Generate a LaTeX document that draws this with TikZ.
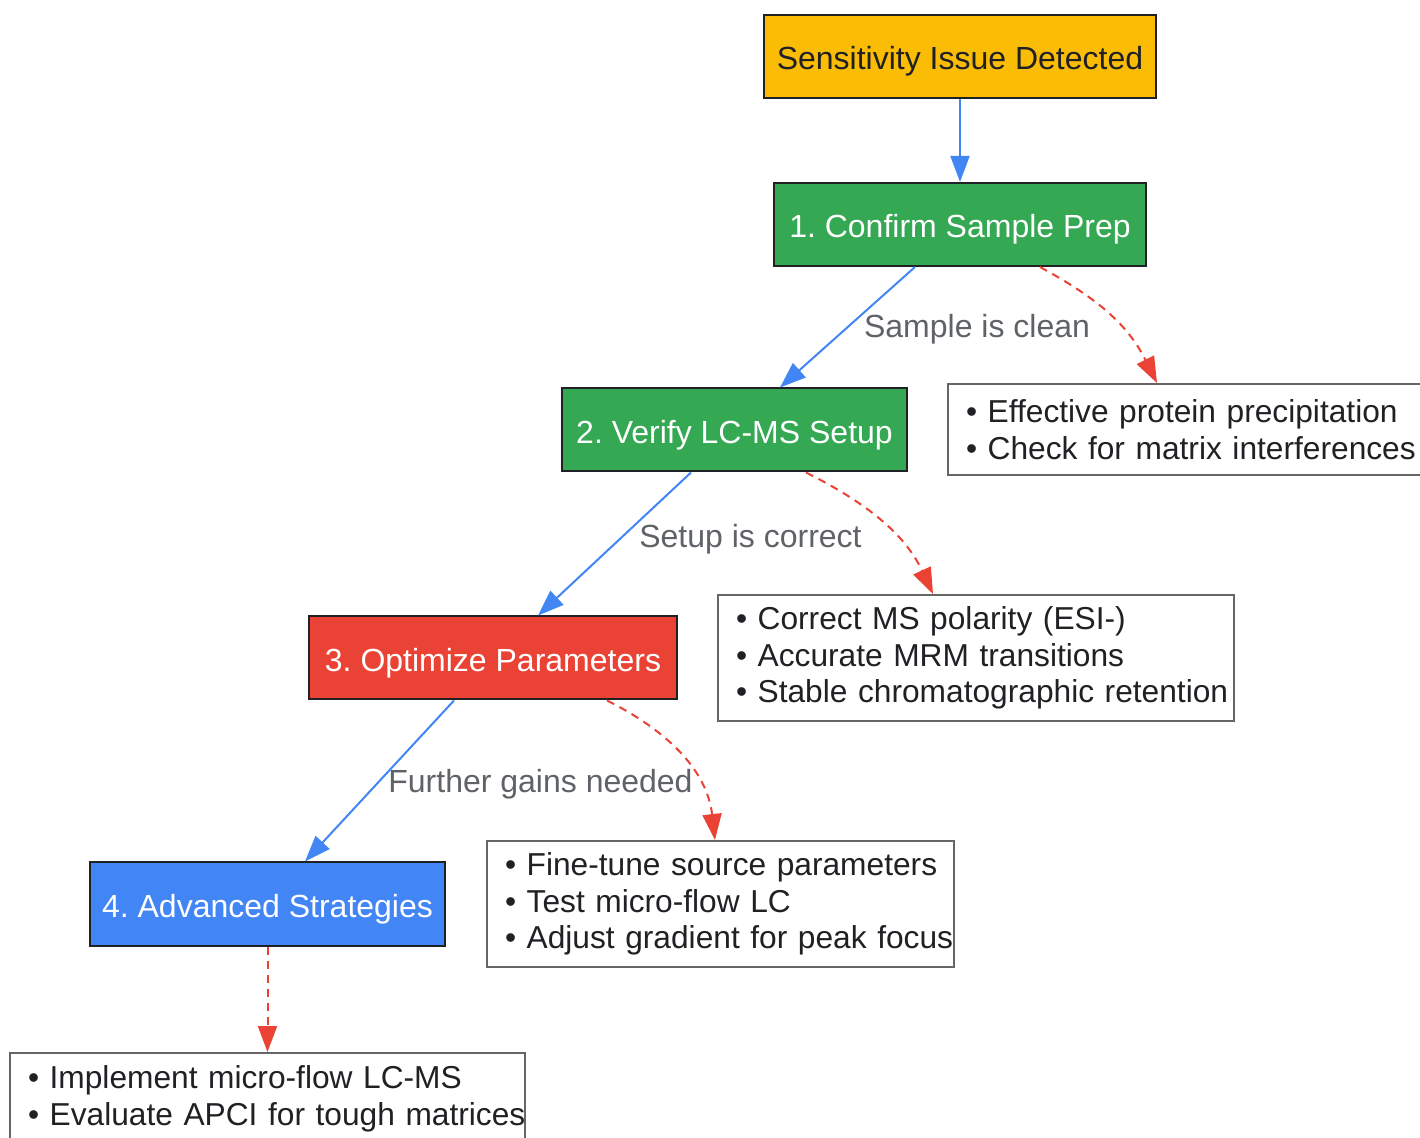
\documentclass[tikz,border=0pt]{standalone}
\usepackage{fontspec}
\setmainfont{Liberation Sans}
\usetikzlibrary{arrows.meta}
\frenchspacing
\definecolor{cyellow}{HTML}{FBBC05}
\definecolor{cgreen}{HTML}{34A853}
\definecolor{cred}{HTML}{EA4335}
\definecolor{cblue}{HTML}{4285F4}
\definecolor{clabel}{HTML}{5F6368}
\definecolor{cnote}{HTML}{666666}
\definecolor{ctext}{HTML}{202124}
\tikzset{
  base/.style={font=\fontsize{16}{18.35}\selectfont\frenchspacing},
  mainbox/.style={base, draw=ctext, line width=1pt, minimum height=41.5pt, inner sep=0pt,
    text height=14pt, text depth=0.5pt, align=center},
  notebox/.style={font=\fontsize{15.85}{18.35}\selectfont\frenchspacing, draw=cnote, line width=1pt,
    inner xsep=9pt, inner ysep=0pt, align=left, text=ctext},
  lbl/.style={base, text=clabel, inner sep=0pt},
  yesarrow/.style={draw=cblue, line width=1pt, -{Triangle[length=13pt,width=9.5pt]}},
  notearrow/.style={draw=cred, line width=1pt, dash pattern=on 4pt off 3pt, -{Triangle[length=13pt,width=9.5pt]}},
}
\begin{document}
\begin{tikzpicture}[x=0.5pt, y=-0.5pt]
\fill[white] (0,0) rectangle (1420,1138);
\clip (0,0) rectangle (1420,1138);
% main steps
\node[mainbox, fill=cyellow, text=ctext, minimum width=196pt] (s0) at (960,56.5) {Sensitivity Issue Detected};
\node[mainbox, fill=cgreen, text=white, minimum width=186pt] (s1) at (960,224.5) {1. Confirm Sample Prep};
\node[mainbox, fill=cgreen, text=white, minimum width=172.5pt] (s2) at (734.5,430) {2. Verify LC-MS Setup};
\node[mainbox, fill=cred, text=white, minimum width=184pt] (s3) at (493,658) {3. Optimize Parameters};
\node[mainbox, fill=cblue, text=white, minimum width=177.5pt] (s4) at (267.5,904) {4. Advanced Strategies};
% notes
\node[notebox, text width=220pt, minimum height=45.5pt] (n1) at (1186,429.5)
  {\mbox{• Effective protein precipitation}\\\mbox{• Check for matrix interferences}};
\node[notebox, text width=240pt, minimum height=63pt] (n2) at (976,658)
  {\mbox{• Correct MS polarity (ESI-)}\\\mbox{• Accurate MRM transitions}\\\mbox{• Stable chromatographic retention}};
\node[notebox, text width=215.5pt, minimum height=63pt] (n3) at (720.5,904)
  {\mbox{• Fine-tune source parameters}\\\mbox{• Test micro-flow LC}\\\mbox{• Adjust gradient for peak focus}};
\node[notebox, text width=239.5pt, minimum height=45.5pt] (n4) at (267.5,1098.5)
  {\mbox{• Implement micro-flow LC-MS}\\\mbox{• Evaluate APCI for tough matrices}};
% edge labels
\node[lbl] (l1) at (977,329) {Sample is clean};
\node[lbl] (l2) at (750.5,539) {Setup is correct};
\node[lbl] (l3) at (540.5,784) {Further gains needed};
% main flow
\draw[yesarrow] (s0.south) -- (s1.north);
\draw[yesarrow] ([xshift=-22.5pt]s1.south) -- ([xshift=22.75pt]s2.north);
\draw[yesarrow] ([xshift=-21.75pt]s2.south) -- ([xshift=22.5pt]s3.north);
\draw[yesarrow] ([xshift=-19.5pt]s3.south) -- ([xshift=18.75pt]s4.north);
% notes
\draw[notearrow] ([xshift=40pt]s1.south) .. controls +(55,30) and +(-30,-60) .. ([xshift=105pt]n1.north west);
\draw[notearrow] ([xshift=35.75pt]s2.south) .. controls +(60,30) and +(-28,-60) .. ([xshift=-21.5pt]n2.north);
\draw[notearrow] ([xshift=57pt]s3.south) .. controls +(60,30) and +(-8,-70) .. ([xshift=-2.75pt]n3.north);
\draw[notearrow] (s4.south) -- (n4.north);
\end{tikzpicture}
\end{document}
